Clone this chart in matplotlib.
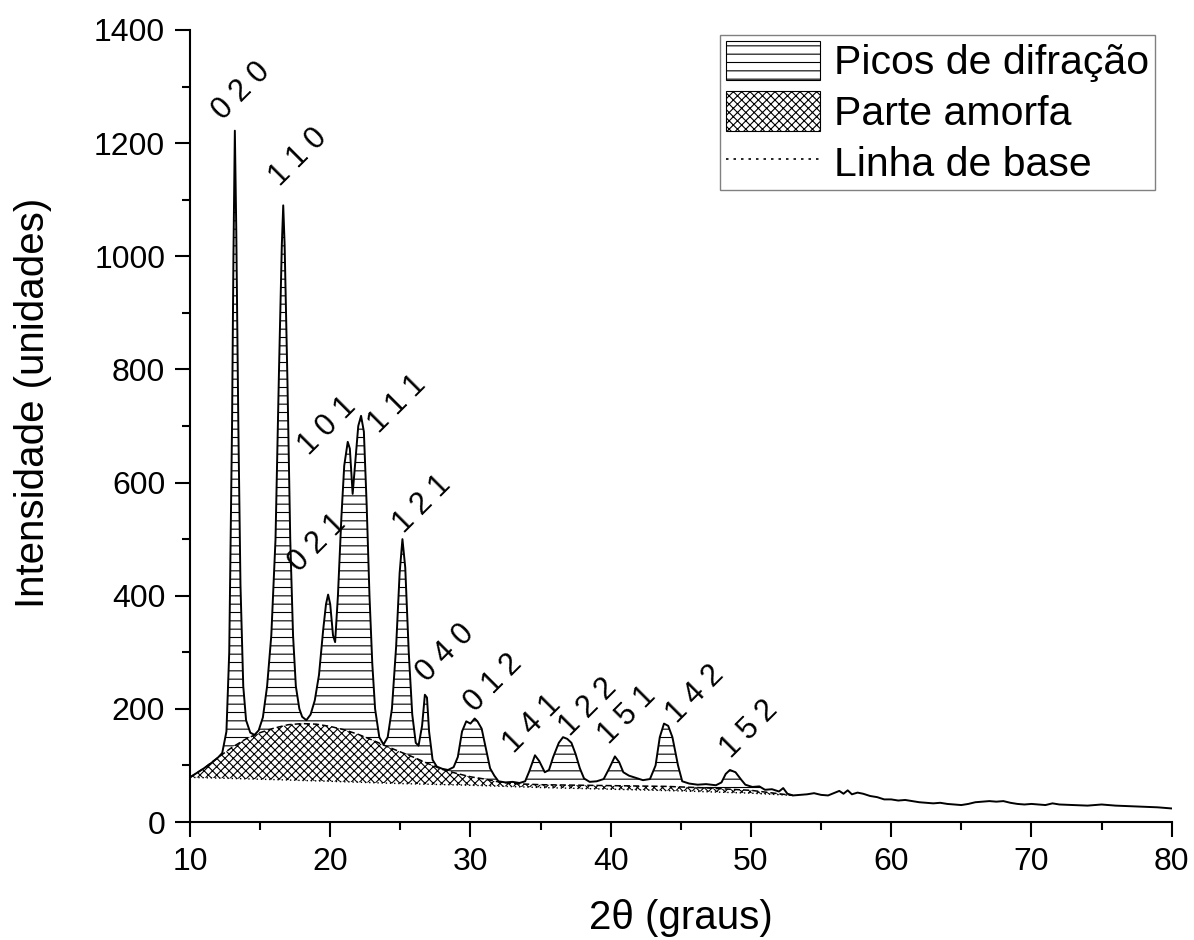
import numpy as np
import matplotlib
matplotlib.use("Agg")
from matplotlib import pyplot as plt
from matplotlib.patches import Patch
from matplotlib.lines import Line2D
from matplotlib.ticker import MultipleLocator

plt.rcParams['font.family'] = ['Liberation Sans', 'DejaVu Sans']
plt.rcParams['hatch.linewidth'] = 0.8

# difratograma medido (2theta, intensidade)
twotheta = [10.0, 10.5, 11.0, 11.5, 12.0, 12.3, 12.6, 12.8, 13.0, 13.1, 13.2, 13.3, 13.45,
            13.6, 13.8, 14.0, 14.3, 14.6, 14.9, 15.2, 15.5, 15.8, 16.1, 16.35, 16.55, 16.65,
            16.75, 16.95, 17.15, 17.35, 17.55, 17.8, 18.0, 18.3, 18.6, 18.9, 19.2, 19.5, 19.7,
            19.85, 20.0, 20.2, 20.35, 20.55, 20.8, 21.0, 21.25, 21.4, 21.6, 21.8, 22.0, 22.2,
            22.4, 22.6, 22.8, 23.0, 23.2, 23.5, 23.8, 24.1, 24.4, 24.7, 24.95, 25.15, 25.35,
            25.6, 25.85, 26.1, 26.3, 26.55, 26.75, 26.9, 27.05, 27.3, 27.6, 28.0, 28.4, 28.8,
            29.1, 29.4, 29.7, 30.0, 30.3, 30.5, 30.8, 31.1, 31.4, 31.7, 32.0, 32.5, 33.0, 33.5,
            33.9, 34.2, 34.6, 34.9, 35.3, 35.6, 35.9, 36.3, 36.6, 36.9, 37.2, 37.5, 37.8, 38.1,
            38.5, 39.0, 39.5, 39.9, 40.3, 40.6, 40.9, 41.3, 41.8, 42.3, 42.8, 43.2, 43.5, 43.8,
            44.1, 44.4, 44.8, 45.1, 45.6, 46.2, 46.8, 47.5, 47.9, 48.2, 48.5, 48.9, 49.3, 49.6,
            50.1, 50.6, 51.0, 51.5, 52.0, 52.3, 52.6, 53.0, 53.5, 54.0, 54.5, 55.0, 55.5, 56.0,
            56.3, 56.6, 56.9, 57.2, 57.6, 58.0, 58.5, 59.0, 59.5, 60.0, 60.5, 61.0, 61.5, 62.0,
            62.5, 63.0, 63.5, 64.0, 64.5, 65.0, 65.5, 66.0, 66.5, 67.0, 67.5, 68.0, 68.5, 69.0,
            69.5, 70.0, 71.0, 71.5, 72.0, 73.0, 74.0, 75.0, 76.0, 77.0, 78.0, 79.0, 80.0]
intensidade = [79, 87, 95, 104, 114, 122, 160, 300, 700, 1000, 1222, 1050, 700,
               420, 240, 180, 158, 154, 162, 185, 240, 330, 500, 800, 1020, 1090,
               1020, 780, 500, 330, 240, 200, 186, 180, 190, 215, 260, 340, 385,
               402, 385, 330, 318, 400, 540, 630, 672, 660, 580, 640, 700, 718,
               690, 560, 400, 280, 200, 150, 137, 150, 200, 310, 440, 500, 450,
               300, 190, 140, 135, 170, 225, 220, 160, 110, 98, 94, 92, 97,
               115, 160, 178, 174, 183, 178, 165, 130, 95, 82, 72, 70, 71, 69,
               72, 90, 118, 108, 88, 92, 115, 140, 150, 147, 140, 120, 95, 77,
               71, 72, 76, 95, 116, 106, 88, 82, 78, 74, 76, 100, 150, 174,
               170, 150, 100, 72, 68, 66, 67, 65, 70, 85, 92, 88, 75, 66,
               62, 63, 57, 58, 54, 60, 50, 47, 48, 49, 51, 48, 47, 52,
               55, 50, 56, 49, 52, 50, 46, 44, 40, 40, 38, 39, 37, 35,
               34, 33, 34, 32, 31, 30, 32, 35, 36, 37, 36, 37, 34, 32,
               31, 32, 30, 33, 31, 30, 29, 31, 29, 28, 27, 26, 24]

# parte amorfa (topo) e linha de base
amorfa_x = [10, 11, 12, 13, 14, 15, 16, 17, 18, 19, 20, 21, 22, 23, 24, 25, 26, 27, 28,
            29, 30, 31, 32, 33, 35, 38, 41, 44, 47, 50, 53]
amorfa_y = [79, 95, 114, 132, 147, 158, 166, 172, 174, 173, 169, 163, 155, 145, 134, 124,
            114, 103, 93, 86, 80, 76, 71, 68, 66, 65, 64, 63, 60, 56, 47]
base_x = [10, 13, 16, 20, 25, 30, 35, 40, 45, 50, 53]
base_y = [79, 77, 75, 72, 68, 65, 61, 58, 55, 51, 47]

# indices de Miller dos picos
picos_rotulo = ['0 2 0', '1 1 0', '0 2 1', '1 0 1', '1 1 1', '1 2 1', '0 4 0',
                '0 1 2', '1 4 1', '1 2 2', '1 5 1', '1 4 2', '1 5 2']
picos_x = [13.7, 17.7, 19.05, 19.8, 24.8, 26.6, 28.2, 31.6, 34.4, 38.4, 41.2, 46.0, 49.9]
picos_y = [1292, 1175, 492, 699, 738, 561, 299, 246, 172, 202, 189, 225, 163]

fig = plt.figure(figsize=(11.94, 9.4), dpi=100)
ax = fig.add_axes([0.1591, 0.1255, 0.8222, 0.8426])

x = np.array(twotheta)
y = np.array(intensidade)
ax_ = np.array(amorfa_x)
ay_ = np.array(amorfa_y)
bx = np.array(base_x)
by = np.array(base_y)

# area amorfa (entre linha de base e topo amorfo)
ax.fill(np.concatenate([ax_, bx[::-1]]), np.concatenate([ay_, by[::-1]]),
        facecolor='none', edgecolor='black', linewidth=0, hatch='xxxx')

# picos (entre curva e topo amorfo)
m = x <= 53
ax.fill(np.concatenate([x[m], ax_[::-1]]), np.concatenate([y[m], ay_[::-1]]),
        facecolor='none', edgecolor='black', linewidth=0, hatch='--')

ax.plot(ax_, ay_, color='black', lw=1.1, ls=(0, (4, 2)))
ax.plot(bx, by, color='black', lw=1.0, ls=(0, (1, 2)))
ax.plot(x, y, color='black', lw=1.4)

for r, px, py in zip(picos_rotulo, picos_x, picos_y):
    ax.text(px, py, r, rotation=45, fontsize=22, ha='center', va='center')

ax.set_xlim(10, 80)
ax.set_ylim(0, 1400)
ax.xaxis.set_major_locator(MultipleLocator(10))
ax.xaxis.set_minor_locator(MultipleLocator(5))
ax.yaxis.set_major_locator(MultipleLocator(200))
ax.yaxis.set_minor_locator(MultipleLocator(100))
ax.spines['top'].set_visible(False)
ax.spines['right'].set_visible(False)
ax.spines['left'].set_linewidth(1.5)
ax.spines['bottom'].set_linewidth(1.5)
ax.tick_params(which='major', direction='out', length=10.8, width=1.5, labelsize=23, pad=7)
ax.tick_params(which='minor', direction='out', length=5.8, width=1.5)

ax.set_xlabel('2θ (graus)', fontsize=29, labelpad=16)
ax.set_ylabel('Intensidade (unidades)', fontsize=29)
ax.yaxis.set_label_coords(-0.141, 0.529)

handles = [Patch(facecolor='white', edgecolor='black', hatch='--', linewidth=0.8),
           Patch(facecolor='white', edgecolor='black', hatch='xxxx', linewidth=0.8),
           Line2D([0], [0], color='black', lw=1.2, ls=(0, (1.5, 3)))]
labels = ['Picos de difração', 'Parte amorfa', 'Linha de base']
leg = ax.legend(handles, labels, loc='upper right', bbox_to_anchor=(0.983, 0.994),
                borderaxespad=0, fontsize=29.5, frameon=True, fancybox=False,
                edgecolor='#808080', framealpha=1, handlelength=2.3, handleheight=1.1,
                handletextpad=0.33, labelspacing=0.22, borderpad=0.15)
leg.get_frame().set_linewidth(1.0)

fig.savefig('out.png', dpi=100)
